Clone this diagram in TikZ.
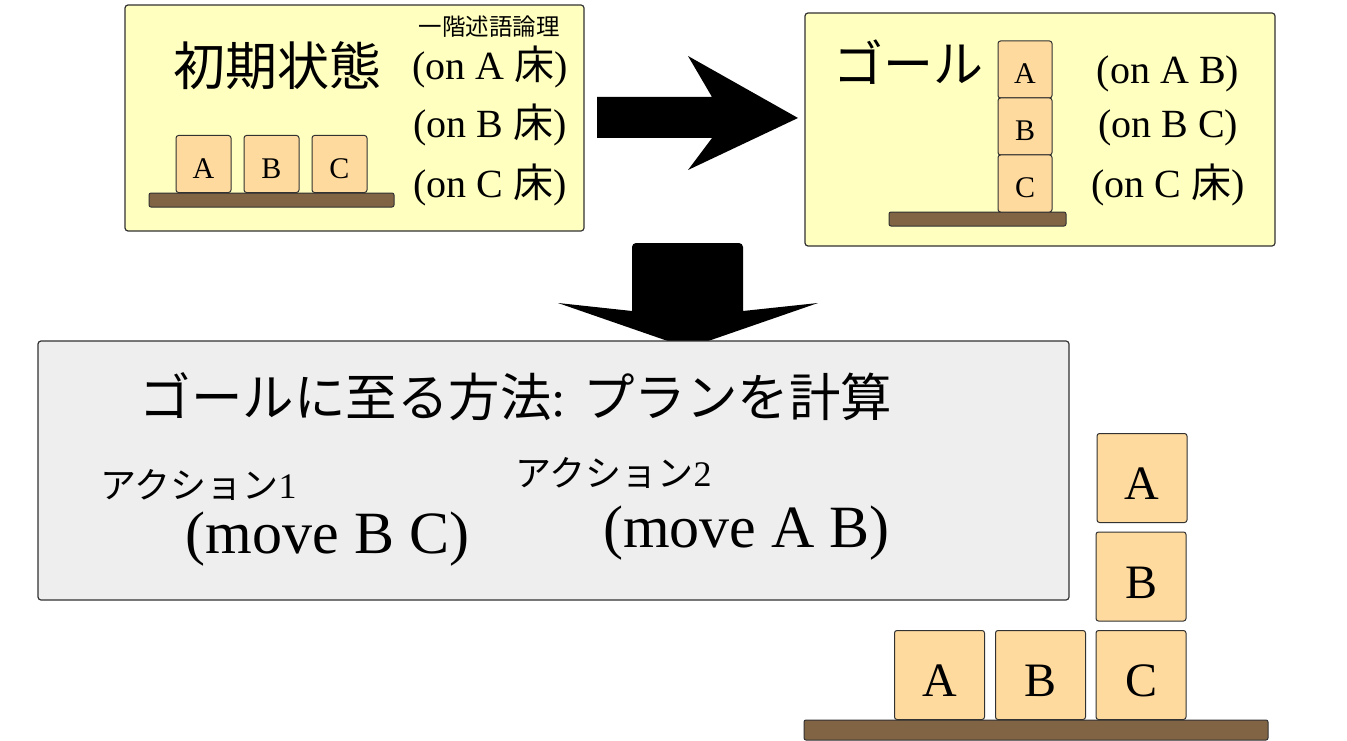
\documentclass[tikz,border=0pt]{standalone}
\usepackage{fontspec}
\setmainfont{Liberation Serif}
\newfontfamily\cjk{Noto Sans CJK JP}
\definecolor{paneyellow}{RGB}{255,255,192}
\definecolor{blockfill}{RGB}{255,218,158}
\definecolor{floorbrown}{RGB}{128,100,68}
\definecolor{panegray}{RGB}{238,238,238}
\definecolor{edgegray}{RGB}{50,50,50}
\newcommand{\fs}[1]{\fontsize{#1}{#1}\selectfont}
\tikzset{
  pane/.style={draw=edgegray, line width=1.2pt, rounded corners=3pt},
  cube/.style={draw=edgegray, fill=blockfill, line width=1pt, rounded corners=2.5pt,
    inner sep=0pt, anchor=center, text depth=0pt},
  smallcube/.style={cube, minimum width=55pt, minimum height=57pt, font=\fs{30},
    text height=28.5pt},
  bigcube/.style={cube, minimum width=90pt, minimum height=89pt, font=\fs{48},
    text height=43pt},
  floorbar/.style={draw=edgegray, fill=floorbrown, line width=1pt, rounded corners=2pt},
  txt/.style={inner sep=0pt, anchor=center},
  btxt/.style={inner sep=0pt, anchor=base},
  bigarrow/.style={fill=black}
}
\begin{document}
\begin{tikzpicture}[x=1pt,y=-1pt]
\useasboundingbox (0,0) rectangle (1347,741);
\fill[white] (0,0) rectangle (1347,741);

% initial state pane
\draw[pane, fill=paneyellow] (125,5) rectangle (584,231);
\node[txt, font=\fs{52}\cjk] (init) at (277,66) {初期状態};
\node[txt, font=\fs{23.5}\cjk] (fol) at (489,27) {一階述語論理};
\node[btxt, font=\fs{40}] (i1) at (490,80) {(on A {\cjk 床})};
\node[btxt, font=\fs{40}] (i2) at (490,138) {(on B {\cjk 床})};
\node[btxt, font=\fs{40}] (i3) at (490,197) {(on C {\cjk 床})};
\draw[floorbar] (149,193) rectangle (394,207);
\node[smallcube] (ia) at (203.5,164) {A};
\node[smallcube] (ib) at (271.5,164) {B};
\node[smallcube] (ic) at (339.5,164) {C};

% goal pane
\draw[pane, fill=paneyellow] (805,13) rectangle (1275,246);
\node[txt, font=\fs{50}\cjk] (goal) at (908,62) {ゴール};
\draw[floorbar] (889,212) rectangle (1066,226);
\node[smallcube, minimum width=54pt] (ga) at (1025,69.5) {A};
\node[smallcube, minimum width=54pt] (gb) at (1025,126.5) {B};
\node[smallcube, minimum width=54pt] (gc) at (1025,183.5) {C};
\node[btxt, font=\fs{40}] (g1) at (1168,84) {(on A B)};
\node[btxt, font=\fs{40}] (g2) at (1168,138) {(on B C)};
\node[btxt, font=\fs{40}] (g3) at (1168,197) {(on C {\cjk 床})};

% right arrow
\fill[bigarrow] (597,97) -- (712,97) -- (688,56) -- (798,118) -- (688,170)
  -- (712,138) -- (597,138) -- cycle;

% down arrow
\fill[bigarrow] (632,311) [rounded corners=4pt] -- (632,243) -- (743,243)
  [sharp corners] -- (743,311) -- (818,303) -- (688,348) -- (558,303) -- cycle;

% plan pane
\draw[pane, fill=panegray] (38,341) rectangle (1069,600);
\node[txt, font=\fs{51.5}] (title) at (516,397) {{\cjk ゴールに至る方法}: {\cjk プランを計算}};
\node[btxt, font=\fs{36}] (act1) at (198.5,498) {{\cjk アクション}1};
\node[btxt, font=\fs{60}] (mv1) at (327.5,553) {(move B C)};
\node[btxt, font=\fs{36}] (act2) at (613.5,486) {{\cjk アクション}2};
\node[btxt, font=\fs{60}] (mv2) at (746.5,547) {(move A B)};

% result blocks
\draw[floorbar] (804,720) rectangle (1268,740);
\node[bigcube] (ra) at (1142,478) {A};
\node[bigcube] (rb) at (1141,576.5) {B};
\node[bigcube] (rba) at (939.5,675) {A};
\node[bigcube] (rbb) at (1040.5,675) {B};
\node[bigcube] (rbc) at (1141,675) {C};
\end{tikzpicture}
\end{document}
